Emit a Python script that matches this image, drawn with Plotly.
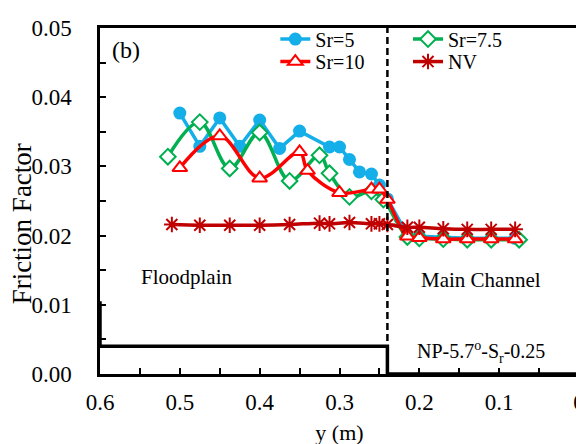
import plotly.graph_objects as go

# ---- data ----
y_sr5 = [0.50, 0.475, 0.45, 0.425, 0.40, 0.375, 0.35, 0.3125, 0.30, 0.2875, 0.275, 0.26, 0.25, 0.24,
         0.215, 0.20, 0.17, 0.14, 0.11, 0.08]
f_sr5 = [0.0377, 0.0329, 0.0370, 0.0329, 0.0367, 0.0326, 0.0351, 0.0328, 0.0328, 0.0310, 0.0292, 0.0289,
         0.0273, 0.0253, 0.0201, 0.0199, 0.0197, 0.0196, 0.0196, 0.0196]

y_sr75 = [0.515, 0.475, 0.4375, 0.40, 0.3625, 0.325, 0.3125, 0.2875, 0.26, 0.245,
          0.215, 0.20, 0.17, 0.14, 0.11, 0.075]
f_sr75 = [0.0314, 0.0364, 0.0297, 0.0349, 0.0279, 0.0316, 0.0290, 0.0256, 0.0264, 0.0252,
          0.0198, 0.0196, 0.0195, 0.0194, 0.0194, 0.0194]

y_sr10 = [0.50, 0.45, 0.40, 0.35, 0.34, 0.30, 0.26, 0.25, 0.24,
          0.215, 0.20, 0.17, 0.14, 0.11, 0.08]
f_sr10 = [0.0298, 0.0344, 0.0283, 0.0321, 0.0294, 0.0262, 0.0267, 0.0267, 0.0252,
          0.0199, 0.0197, 0.0195, 0.0195, 0.0195, 0.0195]

y_nv = [0.51, 0.475, 0.4375, 0.40, 0.3625, 0.325, 0.3125, 0.2875, 0.26, 0.25, 0.24,
        0.215, 0.20, 0.17, 0.14, 0.11, 0.08]
f_nv = [0.0216, 0.0215, 0.0215, 0.0215, 0.0216, 0.0218, 0.0217, 0.0219, 0.0217, 0.0217, 0.0216,
        0.0212, 0.0212, 0.0210, 0.0209, 0.0209, 0.0209]

x_ticks = [0.6, 0.5, 0.4, 0.3, 0.2, 0.1, 0.0]
x_ticklabels = ["0.6", "0.5", "0.4", "0.3", "0.2", "0.1", "0"]

# channel cross-section outline (decoration)
channel_x = [0.6, 0.6, 0.24, 0.24, 0.0, 0.0]
channel_y = [0.0105, 0.004, 0.004, 0.0, 0.0, 0.0105]
interface_y = 0.24

BLUE = "#14AEE8"
GREEN = "#00B050"
RED = "#FF0000"
DRED = "#C00000"
FONT = "Liberation Serif"

fig = go.Figure()

fig.add_trace(go.Scatter(
    x=y_sr5, y=f_sr5, name="Sr=5", mode="lines+markers", legend="legend",
    line=dict(color=BLUE, width=3.5),
    marker=dict(symbol="circle", size=13, color=BLUE)))

fig.add_trace(go.Scatter(
    x=y_sr75, y=f_sr75, name="Sr=7.5", mode="lines+markers", legend="legend2",
    line=dict(color=GREEN, width=3.5, shape="spline", smoothing=1),
    marker=dict(symbol="diamond", size=12, color="white", line=dict(color=GREEN, width=2))))

fig.add_trace(go.Scatter(
    x=y_sr10, y=f_sr10, name="Sr=10", mode="lines+markers", legend="legend3",
    line=dict(color=RED, width=3.5, shape="spline", smoothing=1),
    marker=dict(symbol="triangle-up", size=13, color="white", line=dict(color=RED, width=2))))

fig.add_trace(go.Scatter(
    x=y_nv, y=f_nv, name="NV", mode="lines+markers", legend="legend4",
    line=dict(color=DRED, width=3.5, shape="spline", smoothing=1),
    marker=dict(symbol="asterisk-open", size=13, color=DRED, line=dict(color=DRED, width=2))))

# channel outline
path = "M " + " L ".join(f"{x},{y}" for x, y in zip(channel_x, channel_y))
fig.add_shape(type="path", path=path, xref="x", yref="y",
              line=dict(color="black", width=3.5), layer="above")
# floodplain / main channel interface
fig.add_shape(type="line", x0=interface_y, x1=interface_y, y0=0, y1=0.05, xref="x", yref="y",
              line=dict(color="black", width=2.5, dash="7px,4px"), layer="above")

def note(text, x, y, size, angle=0):
    fig.add_annotation(text=text, x=x, y=y, xref="paper", yref="paper",
                       xanchor="center", yanchor="middle", textangle=angle,
                       showarrow=False, font=dict(family=FONT, size=size, color="black"))

note("(b)", 0.054, 0.937, 24)
note("Floodplain", 0.182, 0.281, 21)
note("Main Channel", 0.795, 0.272, 21)
note("NP-5.7<sup>o</sup>-S<sub>r</sub>-0.25", 0.795, 0.063, 20)
note("Friction Factor", -0.161, 0.435, 27, angle=-90)

def leg(x, y):
    return dict(x=x, y=y, xanchor="left", yanchor="middle",
                bgcolor="rgba(0,0,0,0)", font=dict(family=FONT, size=20),
                tracegroupgap=0)

fig.update_layout(
    width=584, height=444,
    margin=dict(l=92, r=13, t=14, b=78),
    paper_bgcolor="white", plot_bgcolor="white",
    font=dict(family=FONT, size=22, color="black"),
    showlegend=True,
    legend=leg(0.366, 0.968),
    legend2=leg(0.643, 0.968),
    legend3=leg(0.366, 0.903),
    legend4=leg(0.643, 0.903),
    xaxis=dict(range=[0.6, 0.0], tickvals=x_ticks, ticktext=x_ticklabels,
               ticks="inside", ticklen=6, tickwidth=2, tickcolor="black",
               minor=dict(dtick=0.05, ticks="inside", ticklen=6, tickwidth=2, tickcolor="black"),
               showline=True, linewidth=2.5, linecolor="black", mirror=True,
               showgrid=False, zeroline=False, automargin=False,
               ticklabelstandoff=6,
               title=dict(text="y (m)", font=dict(family=FONT, size=22), standoff=11),
               tickfont=dict(family=FONT, size=23)),
    yaxis=dict(range=[0, 0.05], dtick=0.01, tickformat=".2f",
               ticks="inside", ticklen=6, tickwidth=2, tickcolor="black",
               minor=dict(dtick=0.005, ticks="inside", ticklen=6, tickwidth=2, tickcolor="black"),
               showline=True, linewidth=2.5, linecolor="black", mirror=True,
               showgrid=False, zeroline=False, automargin=False,
               ticklabelstandoff=21,
               tickfont=dict(family=FONT, size=23)),
)

fig.write_html("out.html")
